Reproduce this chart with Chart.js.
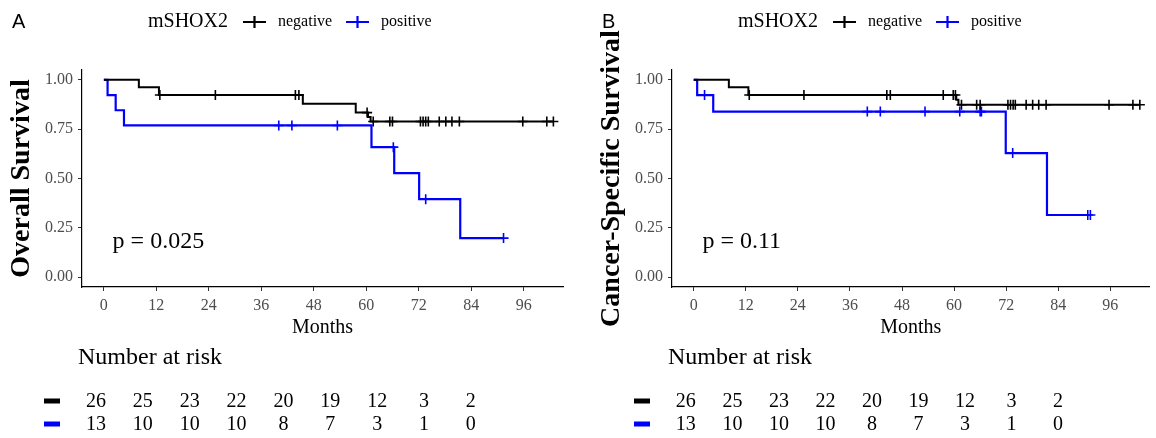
<!DOCTYPE html>
<html>
<head>
<meta charset="utf-8">
<script src="https://cdn.jsdelivr.net/npm/chart.js@4.4.1/dist/chart.umd.min.js"></script>
<style>
  html, body { margin: 0; padding: 0; background: #fff; }
  body { width: 1156px; height: 438px; position: relative; overflow: hidden; }
  canvas { position: absolute; top: 0; }
  #panelA { left: 0; }
  #panelB { left: 590px; }
</style>
</head>
<body>
<canvas id="panelA" width="578" height="438"></canvas>
<canvas id="panelB" width="566" height="438"></canvas>
<script>
"use strict"

// ticks and risk table
const monthTicks = [0, 12, 24, 36, 48, 60, 72, 84, 96];
const survTicks = [0, 0.25, 0.5, 0.75, 1];
const riskNegative = [26, 25, 23, 22, 20, 19, 12, 3, 2];
const riskPositive = [13, 10, 10, 10, 8, 7, 3, 1, 0];

// panel A - overall survival
const osNegTimes = [0, 8.0, 12.6, 45.5, 57.6, 60.4, 61.0, 102.8];
const osNegSurv = [1, 0.962, 0.923, 0.879, 0.834, 0.812, 0.789, 0.789];
const osNegCensor = [12.8, 25.5, 43.8, 44.6, 60.2, 61.6, 65.4, 66.0, 72.4, 73.0, 73.6, 74.2, 76.7, 78.2, 79.6, 81.3, 95.8, 101.3, 102.8];
const osPosTimes = [0, 0.85, 2.7, 4.6, 61.2, 66.4, 72.1, 81.5, 91.4];
const osPosSurv = [1, 0.923, 0.846, 0.769, 0.659, 0.527, 0.395, 0.198, 0.198];
const osPosCensor = [40.0, 43.0, 53.4, 66.2, 73.6, 91.4];

// panel B - cancer-specific survival
const cssNegTimes = [0, 8.1, 12.6, 60.5, 61.0, 102.8];
const cssNegSurv = [1, 0.962, 0.923, 0.899, 0.874, 0.874];
const cssNegCensor = [12.8, 25.4, 44.5, 45.3, 57.5, 59.8, 60.3, 61.7, 65.2, 66.0, 72.4, 73.0, 73.6, 74.1, 76.6, 78.1, 79.5, 81.2, 95.7, 101.2, 102.8];
const cssPosTimes = [0, 0.8, 4.5, 71.9, 81.4, 91.4];
const cssPosSurv = [1, 0.923, 0.839, 0.629, 0.315, 0.315];
const cssPosCensor = [2.5, 40.0, 43.0, 53.3, 61.3, 66.0, 66.3, 73.5, 90.8, 91.4];

const SERIF = '"Liberation Serif", "Times New Roman", serif';
const NEG_COLOR = '#000000';
const POS_COLOR = '#0000ff';

function curve(times, surv) {
    return times.map((t, i) => ({ x: t, y: surv[i] }));
}

// survival value at a censoring time
function censorPoints(censor, times, surv) {
    return censor.map(t => {
        let s = surv[0];
        for (let i = 0; i < times.length; i++) {
            if (times[i] <= t) s = surv[i];
        }
        return { x: t, y: s };
    });
}

function makePanel(id, letter, yTitle, pText, neg, pos, padRight) {
    const extras = {
        id: 'extras' + letter,
        afterDraw(chart) {
            const ctx = chart.ctx;
            const xs = chart.scales.x;
            const ys = chart.scales.y;
            const xr = chart.scales.xr;
            ctx.save();
            ctx.textBaseline = 'middle';

            // panel letter
            ctx.fillStyle = '#000';
            ctx.font = '20px "Liberation Sans", Arial, sans-serif';
            ctx.textAlign = 'left';
            ctx.fillText(letter, 12, 22);

            // legend
            ctx.font = '20px ' + SERIF;
            ctx.fillText('mSHOX2', 148, 22);
            const drawKey = (x0, color, label) => {
                ctx.strokeStyle = color;
                ctx.lineWidth = 2.2;
                ctx.beginPath();
                ctx.moveTo(x0, 22); ctx.lineTo(x0 + 23, 22);
                ctx.moveTo(x0 + 11.5, 16); ctx.lineTo(x0 + 11.5, 28);
                ctx.stroke();
                ctx.fillStyle = '#000';
                ctx.font = '16px ' + SERIF;
                ctx.fillText(label, x0 + 35, 22);
            };
            drawKey(243, NEG_COLOR, 'negative');
            drawKey(346, POS_COLOR, 'positive');

            // p value
            ctx.font = '24px ' + SERIF;
            ctx.fillStyle = '#000';
            ctx.fillText(pText, xs.getPixelForValue(2), ys.getPixelForValue(0.18));

            // number at risk table
            ctx.font = '24px ' + SERIF;
            ctx.fillText('Number at risk', 78, 358);
            const rows = [[riskNegative, NEG_COLOR, 401], [riskPositive, POS_COLOR, 424]];
            ctx.font = '20px ' + SERIF;
            ctx.textAlign = 'center';
            rows.forEach(([vals, color, y]) => {
                ctx.fillStyle = color;
                ctx.fillRect(44, y - 2.5, 16, 5);
                ctx.fillStyle = '#000';
                vals.forEach((v, i) => {
                    ctx.fillText(String(v), xr.getPixelForValue(monthTicks[i]), y + 1);
                });
            });
            ctx.restore();
        }
    };

    return new Chart(document.getElementById(id), {
        type: 'line',
        data: {
            datasets: [
                { data: curve(neg.times, neg.surv), borderColor: NEG_COLOR, borderWidth: 2, stepped: true, pointRadius: 0, fill: false },
                { data: curve(pos.times, pos.surv), borderColor: POS_COLOR, borderWidth: 2.2, stepped: true, pointRadius: 0, fill: false },
                { data: censorPoints(neg.censor, neg.times, neg.surv), showLine: false, pointStyle: 'cross', pointRadius: 5, borderColor: NEG_COLOR, borderWidth: 1.6 },
                { data: censorPoints(pos.censor, pos.times, pos.surv), showLine: false, pointStyle: 'cross', pointRadius: 5, borderColor: POS_COLOR, borderWidth: 1.6 }
            ]
        },
        options: {
            responsive: false,
            animation: false,
            devicePixelRatio: 1,
            layout: { padding: { left: 0, top: 70, right: padRight, bottom: 98 } },
            plugins: { legend: { display: false }, tooltip: { enabled: false } },
            elements: { point: { hoverRadius: 5 } },
            scales: {
                x: {
                    type: 'linear',
                    min: -5, max: 105,
                    afterBuildTicks: s => { s.ticks = monthTicks.map(v => ({ value: v })); },
                    afterFit: s => { s.height = 53; },
                    ticks: { color: '#4d4d4d', font: { family: SERIF, size: 16 }, padding: 5, maxRotation: 0 },
                    grid: { drawOnChartArea: false, drawTicks: true, tickLength: 4, color: '#333' },
                    border: { display: true, color: '#000', width: 1.2 },
                    title: { display: true, text: 'Months', color: '#000', font: { family: SERIF, size: 20 }, padding: 0 }
                },
                xr: {
                    type: 'linear',
                    display: false,
                    min: -3.58, max: 119.6
                },
                y: {
                    type: 'linear',
                    min: -0.05, max: 1.05,
                    afterBuildTicks: s => { s.ticks = survTicks.map(v => ({ value: v })); },
                    afterFit: s => { s.width = 82; },
                    ticks: { color: '#4d4d4d', font: { family: SERIF, size: 16 }, padding: 5, callback: v => v.toFixed(2) },
                    grid: { drawOnChartArea: false, drawTicks: true, tickLength: 4, color: '#333' },
                    border: { display: true, color: '#000', width: 1.2 },
                    title: { display: true, text: yTitle, color: '#000', font: { family: SERIF, size: 28, weight: 'bold' }, padding: { top: 5, bottom: 0 } }
                }
            }
        },
        plugins: [extras]
    });
}

document.addEventListener('DOMContentLoaded', function () {
    makePanel('panelA', 'A', 'Overall Survival', 'p = 0.025',
        { times: osNegTimes, surv: osNegSurv, censor: osNegCensor },
        { times: osPosTimes, surv: osPosSurv, censor: osPosCensor }, 15);
    makePanel('panelB', 'B', 'Cancer-Specific Survival', 'p = 0.11',
        { times: cssNegTimes, surv: cssNegSurv, censor: cssNegCensor },
        { times: cssPosTimes, surv: cssPosSurv, censor: cssPosCensor }, 3);
});
</script>
</body>
</html>
